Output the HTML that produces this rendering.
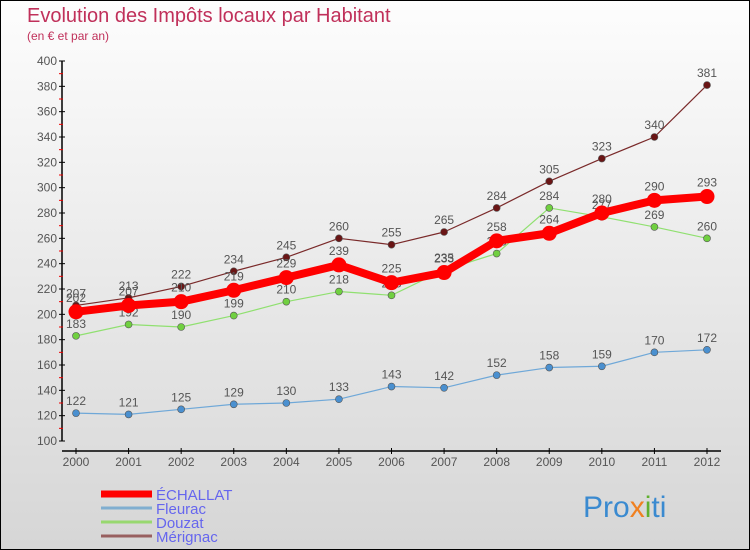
<!DOCTYPE html>
<html><head><meta charset="utf-8"><style>
body{margin:0;}
#c{width:750px;height:550px;position:relative;box-sizing:border-box;border:1px solid #000;background:linear-gradient(#fdfdfd,#d6d6d6);font-family:"Liberation Sans",sans-serif;overflow:hidden;}
svg{position:absolute;left:0;top:0}
</style></head><body>
<div id="c">
<svg id="s" width="750" height="550">
<text x="26" y="21" font-size="20" fill="#c0305a">Evolution des Impôts locaux par Habitant</text>
<text x="26" y="39" font-size="12" fill="#c0305a">(en € et par an)</text>
<text x="582" y="516" font-size="30" fill="#3a8ad0">Pro<tspan fill="#f08020">x</tspan><tspan fill="#60b030">i</tspan>ti</text>
</svg>
</div>
<script>
const years=[2000,2001,2002,2003,2004,2005,2006,2007,2008,2009,2010,2011,2012];
const echallat=[202,207,210,219,229,239,225,233,258,264,280,290,293];
const fleurac=[122,121,125,129,130,133,143,142,152,158,159,170,172];
const douzat=[183,192,190,199,210,218,215,235,248,284,277,269,260];
const merignac=[207,213,222,234,245,260,255,265,284,305,323,340,381];
const yTicks=[100,120,140,160,180,200,220,240,260,280,300,320,340,360,380,400];
const NS="http://www.w3.org/2000/svg";
const s=document.getElementById('s');
const X=i=>75+i*(706-75)/12;
const Y=v=>440-(v-100)*380/300;
function mk(t,a,p){const e=document.createElementNS(NS,t);for(const k in a)e.setAttribute(k,a[k]);(p||s).appendChild(e);return e;}
let ax=mk('line',{x1:61,y1:60,x2:61,y2:440,stroke:'#000','stroke-width':1.5});


yTicks.forEach((v,i)=>{
 mk('line',{x1:58,y1:Y(v),x2:64,y2:Y(v),stroke:'#000'});
 if(i<yTicks.length-1) mk('line',{x1:58,y1:Y(v+10),x2:62,y2:Y(v+10),stroke:'#e00'});
 const t=mk('text',{x:56,y:Y(v)+4,'font-size':12,fill:'#555','text-anchor':'end'});
 t.textContent=v;
 
 
});
let xa=mk('line',{x1:61,y1:450,x2:720,y2:450,stroke:'#000','stroke-width':1.5});


years.forEach((y,i)=>{
 mk('line',{x1:X(i),y1:447,x2:X(i),y2:453,stroke:'#000'});
 const t=mk('text',{x:X(i),y:465,'font-size':12,fill:'#555','text-anchor':'middle'});
 t.textContent=y;
 
 
});
function series(name,data,color,w,r,fill,dy){
 const g=mk('g',{});
 
 
 mk('polyline',{points:data.map((v,i)=>X(i)+','+Y(v)).join(' '),fill:'none',stroke:color,'stroke-width':w,'stroke-linejoin':'round'},g);
 data.forEach((v,i)=>{
  const c=mk('circle',{cx:X(i),cy:Y(v),r:r,fill:fill,stroke:'#555','stroke-width':r>6?0:0.6},g);
  
  
  const t=mk('text',{x:X(i),y:Y(v)+dy,'font-size':12,fill:'#555','text-anchor':'middle'},g);
  t.textContent=v;
 });
}
series('fleurac',fleurac,'#6fa8d8',1.2,3.5,'#4a90d0',-8);
series('douzat',douzat,'#90e070',1.2,3.5,'#70d040',-8);
series('merignac',merignac,'#7a2a2a',1.2,3.5,'#6a1515',-8);
series('echallat',echallat,'#ff0000',8,7.5,'#ff0000',-10);
const leg=[['ÉCHALLAT','#ff0000',7],['Fleurac','#80aed0',3],['Douzat','#98d870',3],['Mérignac','#986060',3]];
leg.forEach((l,i)=>{
 const y=493+i*14;
 const g=mk('g',{});
 
 
 mk('line',{x1:100,y1:y,x2:151,y2:y,stroke:l[1],'stroke-width':l[2]},g);
 const t=mk('text',{x:155,y:y+6,'font-size':15,fill:'#6666ee'},g);
 t.textContent=l[0];
});
</script>
</body></html>
